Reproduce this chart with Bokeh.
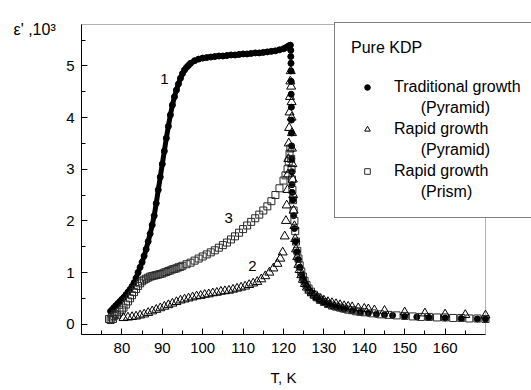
from bokeh.plotting import figure
from bokeh.models import FixedTicker, Legend, LegendItem, Label, BoxAnnotation
from bokeh.embed import file_html
from bokeh.resources import INLINE

# ---------------- data ----------------
x_ticks = [80, 90, 100, 110, 120, 130, 140, 150, 160]
x_minor = [75, 85, 95, 105, 115, 125, 135, 145, 155, 165]
y_ticks = [0, 1, 2, 3, 4, 5]
y_minor = [0.5, 1.5, 2.5, 3.5, 4.5, 5.5]
x_lim = (70, 170)
y_lim = (-0.2, 5.8)

# 1: Traditional growth (Pyramid) - rising branch
t1_rise = [77.2, 77.6, 78.0, 78.5, 79.0, 79.5, 80.0, 80.5, 81.0, 81.5, 82.0, 82.5,
           83.0, 83.5, 84.0, 84.5, 85.0, 85.5, 86.0, 86.5, 87.0, 87.5, 88.0, 88.5,
           89.0, 89.5, 90.0, 90.5, 91.0, 91.5, 92.0, 92.5, 93.0, 93.5, 94.0, 94.5,
           95.0, 95.5, 96.0, 96.5, 97.0, 98.0, 99.0, 100, 101, 102, 103, 104, 105,
           106, 107, 108, 109, 110, 111, 112, 113, 114, 115, 116, 117, 118, 119,
           120, 120.5, 121.0, 121.4, 121.7]
e1_rise = [0.25, 0.28, 0.32, 0.36, 0.40, 0.44, 0.48, 0.52, 0.57, 0.62, 0.67, 0.73,
           0.80, 0.89, 1.00, 1.10, 1.20, 1.32, 1.45, 1.60, 1.75, 1.92, 2.10, 2.34,
           2.60, 2.85, 3.10, 3.35, 3.60, 3.83, 4.05, 4.24, 4.40, 4.53, 4.65, 4.76,
           4.85, 4.92, 4.97, 5.01, 5.05, 5.10, 5.13, 5.15, 5.16, 5.17, 5.18, 5.19, 5.19,
           5.20, 5.21, 5.21, 5.22, 5.23, 5.23, 5.24, 5.25, 5.25, 5.26, 5.27, 5.28, 5.29,
           5.31, 5.33, 5.35, 5.37, 5.39, 5.40]
# 1: falling branch
t1_fall = [121.8, 121.8, 121.85, 121.85, 121.9, 121.9, 121.95, 121.95, 122.0, 122.0,
           122.05, 122.1, 122.1, 122.15, 122.3, 122.5, 122.7, 123.0, 123.3, 123.6,
           124.0, 124.5, 125.0, 125.5, 126, 127, 128, 129, 130, 131, 132, 133, 134,
           135, 137, 139, 141, 143, 145, 147, 150, 153, 156, 160, 164, 168, 170]
e1_fall = [5.30, 5.18, 5.05, 4.90, 4.70, 4.45, 4.20, 3.95, 3.70, 3.45,
           3.20, 2.95, 2.70, 2.55, 2.40, 2.10, 1.85, 1.60, 1.40, 1.25,
           1.10, 0.95, 0.85, 0.77, 0.70, 0.60, 0.52, 0.46, 0.42, 0.38, 0.35, 0.33, 0.31,
           0.29, 0.26, 0.23, 0.21, 0.19, 0.18, 0.17, 0.15, 0.14, 0.13, 0.12, 0.11, 0.10, 0.10]

# 2: Rapid growth (Pyramid)
t2 = [80.4, 81.5, 82.5, 83.5, 84.5, 85.5, 86.5, 87.5, 88.5, 89.5, 90.5, 91.5, 92.5,
      93.5, 94.5, 95.5, 96.5, 97.5, 98.5, 99.5, 100.5, 101.5, 102.5, 103.5, 104.5,
      105.5, 106.5, 107.5, 108.5, 109.5, 110.5, 111.5, 112.5, 113.5, 114.5, 115.5,
      116.5, 117.5, 118.5, 119.2, 119.8, 120.3, 120.6, 120.8, 121.0, 121.1, 121.2,
      121.3, 121.4, 121.5, 121.6, 121.7, 121.8, 121.9, 122.0, 122.0, 122.1, 122.1,
      122.2, 122.3, 122.4, 122.5, 122.7, 122.9, 123.1, 123.4, 123.7, 124.0, 124.4,
      124.8, 125.3, 125.8, 126.4, 127.0, 127.7, 128.4, 129.2, 130, 131, 132, 133,
      134, 135, 136, 137, 138.5, 140, 141, 142.5, 145, 150, 155, 160, 165, 170]
e2 = [0.12, 0.13, 0.14, 0.15, 0.17, 0.19, 0.22, 0.25, 0.28, 0.31, 0.34, 0.37, 0.40,
      0.43, 0.46, 0.48, 0.50, 0.52, 0.54, 0.55, 0.57, 0.58, 0.60, 0.61, 0.63,
      0.64, 0.65, 0.67, 0.69, 0.71, 0.73, 0.76, 0.79, 0.82, 0.87, 0.93,
      1.00, 1.08, 1.17, 1.27, 1.39, 1.70, 2.00, 2.30, 2.60, 2.90, 3.20,
      3.50, 3.80, 4.10, 4.40, 4.70, 4.90, 4.60, 4.30, 4.00, 3.70, 3.40,
      3.10, 2.80, 2.50, 2.20, 1.90, 1.65, 1.45, 1.30, 1.15, 1.05, 0.95,
      0.86, 0.78, 0.71, 0.65, 0.60, 0.56, 0.52, 0.49, 0.46, 0.43, 0.41, 0.39,
      0.37, 0.35, 0.34, 0.33, 0.31, 0.30, 0.29, 0.27, 0.26, 0.23, 0.21, 0.19, 0.18, 0.17]

# 3: Rapid growth (Prism)
t3 = [76.8, 77.2, 77.5, 77.8, 78.1, 78.4, 78.8, 79.4, 80.0, 80.4, 81.0, 81.5, 82.0,
      82.5, 83.0, 83.5, 84.0, 84.5, 85.0, 85.5, 86.0, 86.5, 87.0, 87.5, 88.0, 88.5,
      89.0, 89.5, 90.0, 90.5, 91.0, 91.5, 92.0, 92.5, 93.0, 93.5, 94.0, 94.5, 95.0,
      96, 97, 98, 99, 100, 101, 102, 103, 104, 105, 106, 107, 108, 109, 110, 111,
      112, 113, 114, 115, 116, 117, 118, 119, 120, 120.5, 121.0, 121.3, 121.5,
      121.7, 121.9, 122.0, 122.1, 122.2, 122.35, 122.5, 122.7, 122.9, 123.1, 123.4,
      123.7, 124.0, 124.4, 124.8, 125.2, 125.7, 126.2, 126.8, 127.5, 128.2, 129,
      130, 131, 132, 133, 134, 135, 136, 137, 138, 139, 140, 142, 144, 146, 148,
      150, 152, 154, 156, 158, 160, 162, 164, 166, 168, 170]
e3 = [0.10, 0.08, 0.13, 0.10, 0.16, 0.20, 0.18, 0.24, 0.28, 0.32, 0.38, 0.44, 0.50,
      0.56, 0.62, 0.68, 0.74, 0.79, 0.83, 0.86, 0.88, 0.90, 0.92, 0.93, 0.94, 0.95,
      0.96, 0.97, 0.98, 1.00, 1.01, 1.03, 1.04, 1.06, 1.07, 1.08, 1.10, 1.11, 1.13,
      1.16, 1.19, 1.23, 1.27, 1.31, 1.35, 1.39, 1.43, 1.48, 1.53, 1.58, 1.64, 1.70,
      1.77, 1.84, 1.91, 1.98, 2.05, 2.12, 2.20, 2.28, 2.38, 2.50, 2.63, 2.78, 2.88,
      3.00, 3.15, 3.30, 3.40, 3.20, 3.00, 2.80, 2.60, 2.40, 2.20, 2.00, 1.80, 1.60,
      1.42, 1.27, 1.14, 1.02, 0.92, 0.84, 0.76, 0.69, 0.63, 0.57, 0.52, 0.47,
      0.43, 0.39, 0.36, 0.34, 0.32, 0.30, 0.28, 0.27, 0.25, 0.24, 0.23, 0.21, 0.19,
      0.18, 0.17, 0.16, 0.15, 0.14, 0.14, 0.13, 0.13, 0.12, 0.12, 0.11, 0.11, 0.10]

legend_title = "Pure KDP"
legend_labels = ["Traditional growth", "(Pyramid)", "Rapid growth", "(Pyramid)",
                 "Rapid growth", "(Prism)"]
curve_labels = ["1", "2", "3"]
x_label = "T, K"
y_label = "\u03b5' ,10\u00b3"

FONT = "Liberation Sans"

# ---------------- layout geometry (pixels) ----------------
W, H = 531, 390
FL, FR, FT, FB = 81, 485, 24, 334          # plot box in canvas pixels
kx = (FR - FL) / (x_lim[1] - x_lim[0])
ky = (FB - FT) / (y_lim[1] - y_lim[0])
xr = (x_lim[0] - FL / kx, x_lim[0] + (W - FL) / kx)
yr = (y_lim[0] - (H - FB) / ky, y_lim[0] + FB / ky)

p = figure(width=W, height=H, x_range=xr, y_range=yr,
           output_backend="svg", toolbar_location=None,
           min_border_left=0, min_border_right=0, min_border_top=0,
           min_border_bottom=0)
p.grid.visible = False
p.outline_line_color = None
p.background_fill_color = "white"
p.border_fill_color = "white"

for ax in (p.xaxis[0], p.yaxis[0]):
    ax.axis_line_color = "black"
    ax.major_tick_line_color = "black"
    ax.minor_tick_line_color = "black"
    ax.major_tick_in = 6
    ax.major_tick_out = 0
    ax.minor_tick_in = 4
    ax.minor_tick_out = 0
    ax.major_label_text_font = FONT
    ax.major_label_text_font_size = "15px"
    ax.major_label_text_color = "black"

p.xaxis.fixed_location = y_lim[0]
p.yaxis.fixed_location = x_lim[0]
p.xaxis.bounds = x_lim
p.yaxis.bounds = y_lim
p.xaxis.ticker = FixedTicker(ticks=x_ticks, minor_ticks=x_minor)
p.yaxis.ticker = FixedTicker(ticks=y_ticks, minor_ticks=y_minor)
p.xaxis.major_label_standoff = 8
p.yaxis.major_label_standoff = 7
p.xaxis.axis_label = x_label
p.xaxis.axis_label_text_font = FONT
p.xaxis.axis_label_text_font_size = "15px"
p.xaxis.axis_label_text_font_style = "normal"
p.xaxis.axis_label_text_color = "black"
p.xaxis.axis_label_standoff = 13

# plot box (top and right edges)
p.add_layout(BoxAnnotation(left=x_lim[0], right=x_lim[1], bottom=y_lim[0], top=y_lim[1],
                           fill_alpha=0, line_color="black", line_width=1,
                           level="underlay"))

# series 1
p.line(t1_rise, e1_rise, line_color="black", line_width=5)
r1 = p.scatter(t1_rise, e1_rise, marker="circle", size=6, color="black")
p.scatter(t1_fall, e1_fall, marker="circle", size=6, color="black")
# series 3
r3 = p.scatter(t3, e3, marker="square", size=7, line_color="#2a2a2a",
               fill_color=None, line_width=1)
# series 2
r2 = p.scatter(t2, e2, marker="triangle", size=9, line_color="black",
               fill_color=None, line_width=1)

# invisible renderer for the second lines of legend labels
blank = p.scatter([], [], marker="circle", size=1, line_alpha=0, fill_alpha=0)

nb = "\u00a0" * 6
items = [
    LegendItem(label=legend_labels[0], renderers=[r1]),
    LegendItem(label=nb + legend_labels[1], renderers=[blank]),
    LegendItem(label=legend_labels[2], renderers=[r2]),
    LegendItem(label=nb + legend_labels[3], renderers=[blank]),
    LegendItem(label=legend_labels[4], renderers=[r3]),
    LegendItem(label=nb + legend_labels[5], renderers=[blank]),
]
legend = Legend(items=items, location=(334, H - 218), title=legend_title,
                title_text_font=FONT, title_text_font_size="16px",
                title_text_font_style="normal", title_text_color="black",
                title_standoff=20,
                label_text_font=FONT, label_text_font_size="16px",
                label_text_color="black", label_height=19, glyph_height=14,
                glyph_width=32, label_standoff=11, label_width=180,
                spacing=2, padding=16, margin=0,
                border_line_color="black", border_line_width=1,
                background_fill_color="white", background_fill_alpha=1.0)
p.add_layout(legend, "center")

# curve numbers
for txt, xx, yy in zip(curve_labels, [90.5, 112.3, 106.4], [4.74, 1.12, 2.05]):
    p.add_layout(Label(x=xx, y=yy, text=txt, text_font=FONT, text_font_size="15px",
                       text_align="center", text_baseline="middle",
                       text_color="black"))

# epsilon label at the top left (screen pixels converted to data units)
p.add_layout(Label(x=xr[0] + 13 / kx, y=yr[1] - 29 / ky, text=y_label, text_font=FONT,
                   text_font_size="16px", text_align="left",
                   text_baseline="alphabetic", text_color="black"))

open("out.html", "w").write(file_html(p, INLINE))
